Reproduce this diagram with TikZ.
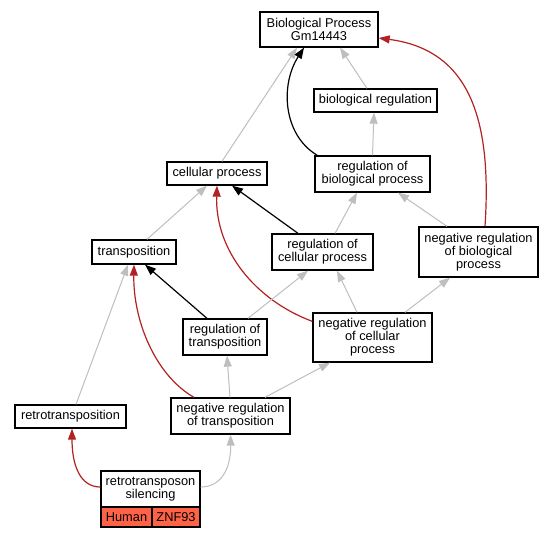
\documentclass[tikz,border=0pt]{standalone}
\usepackage{fontspec}
\setmainfont{Liberation Sans}
\usetikzlibrary{arrows.meta}
\definecolor{edgegray}{HTML}{BEBEBE}
\definecolor{edgered}{HTML}{B22222}
\definecolor{tomatofill}{HTML}{FF6347}
\tikzset{
  term/.style={draw=black, line width=1.3pt, fill=white, inner sep=0pt, align=center,
    font=\fontsize{12.8}{12.9}\selectfont},
  grayE/.style={draw=edgegray, line width=1pt, -{Triangle[length=11pt,width=8pt]}},
  blackE/.style={draw=black, line width=1.2pt, -{Triangle[length=11pt,width=8pt]}},
  redE/.style={draw=edgered, line width=1.2pt, -{Triangle[length=11pt,width=8pt]}},
  cell/.style={draw=black, line width=1.3pt, fill=tomatofill, inner sep=0pt,
    font=\fontsize{12.8}{12.9}\selectfont}
}
\begin{document}
\begin{tikzpicture}[x=1pt,y=-1pt]
\useasboundingbox (0,0) rectangle (553,539);
% nodes
\node[term, minimum width=118pt, minimum height=35pt] (bp) at (319,29.5) {Biological Process\\Gm14443};
\node[term, minimum width=123pt, minimum height=23pt] (br) at (375.5,100.5) {biological regulation};
\node[term, minimum width=115pt, minimum height=36pt] (rbp) at (372.5,174) {regulation of\\biological process};
\node[term, minimum width=100pt, minimum height=23pt] (cp) at (217,173.5) {cellular process};
\node[term, minimum width=84pt, minimum height=24pt] (tr) at (134,252) {transposition};
\node[term, minimum width=101pt, minimum height=36pt] (rcp) at (322.5,252) {regulation of\\cellular process};
\node[term, minimum width=119pt, minimum height=50pt] (nrbp) at (478.5,252) {negative regulation\\of biological\\process};
\node[term, minimum width=84pt, minimum height=36pt] (rt) at (225,337) {regulation of\\transposition};
\node[term, minimum width=119pt, minimum height=49pt] (nrcp) at (372.5,337.5) {negative regulation\\of cellular\\process};
\node[term, minimum width=111pt, minimum height=23pt] (rtp) at (70.5,416.5) {retrotransposition};
\node[term, minimum width=119pt, minimum height=36pt] (nrt) at (230.5,416) {negative regulation\\of transposition};
\node[term, minimum width=99pt, minimum height=36pt] (rs) at (150.5,489) {retrotransposon\\silencing};
\node[cell, minimum width=51pt, minimum height=20pt] (hum) at (126.5,517) {Human};
\node[cell, minimum width=48pt, minimum height=20pt] (znf) at (176,517) {ZNF93};
% edges
\draw[grayE] ([xshift=5pt]cp.north) -- ([xshift=-22pt]bp.south);
\draw[grayE] ([xshift=-8.5pt]br.north) -- ([xshift=21pt]bp.south);
\draw[blackE] ([xshift=3pt]rbp.north west) .. controls (283,135) and (280,85) .. ([xshift=-15pt]bp.south);
\draw[redE] ([xshift=6.5pt]nrbp.north) .. controls (492,120) and (470,50) .. ([yshift=-8.5pt]bp.east);
\draw[grayE] (rbp.north) -- ([xshift=-1.5pt]br.south);
\draw[grayE] ([xshift=13pt]tr.north) -- ([xshift=-10pt]cp.south);
\draw[blackE] ([xshift=-24.5pt]rcp.north) -- ([xshift=15pt]cp.south);
\draw[redE] ([yshift=-9pt]nrcp.north west) .. controls (255,300) and (215,250) .. (cp.south);
\draw[grayE] ([xshift=12.5pt]rcp.north) -- ([xshift=-15.5pt]rbp.south);
\draw[grayE] ([xshift=-31.5pt]nrbp.north) -- ([xshift=25.5pt]rbp.south);
\draw[blackE] ([xshift=-18pt]rt.north) -- ([xshift=11pt]tr.south);
\draw[redE] ([xshift=-36.5pt]nrt.north) .. controls (155,375) and (133,320) .. (tr.south);
\draw[grayE] ([xshift=5.5pt]rtp.north) -- ([xshift=-6pt]tr.south);
\draw[grayE] ([xshift=23pt]rt.north) -- ([xshift=-14.5pt]rcp.south);
\draw[grayE] ([xshift=-15.5pt]nrcp.north) -- ([xshift=14.5pt]rcp.south);
\draw[grayE] ([xshift=32.5pt]nrcp.north) -- ([xshift=-28.5pt]nrbp.south);
\draw[grayE] ([xshift=-0.5pt]nrt.north) -- ([xshift=2pt]rt.south);
\draw[grayE] ([xshift=34.5pt]nrt.north) -- ([xshift=-42.5pt]nrcp.south);
\draw[redE] ([yshift=2pt]rs.west) .. controls (80,487) and (72,465) .. ([xshift=1.5pt]rtp.south);
\draw[grayE] ([yshift=2pt]rs.east) .. controls (225,487) and (231,462) .. (nrt.south);
\end{tikzpicture}
\end{document}
